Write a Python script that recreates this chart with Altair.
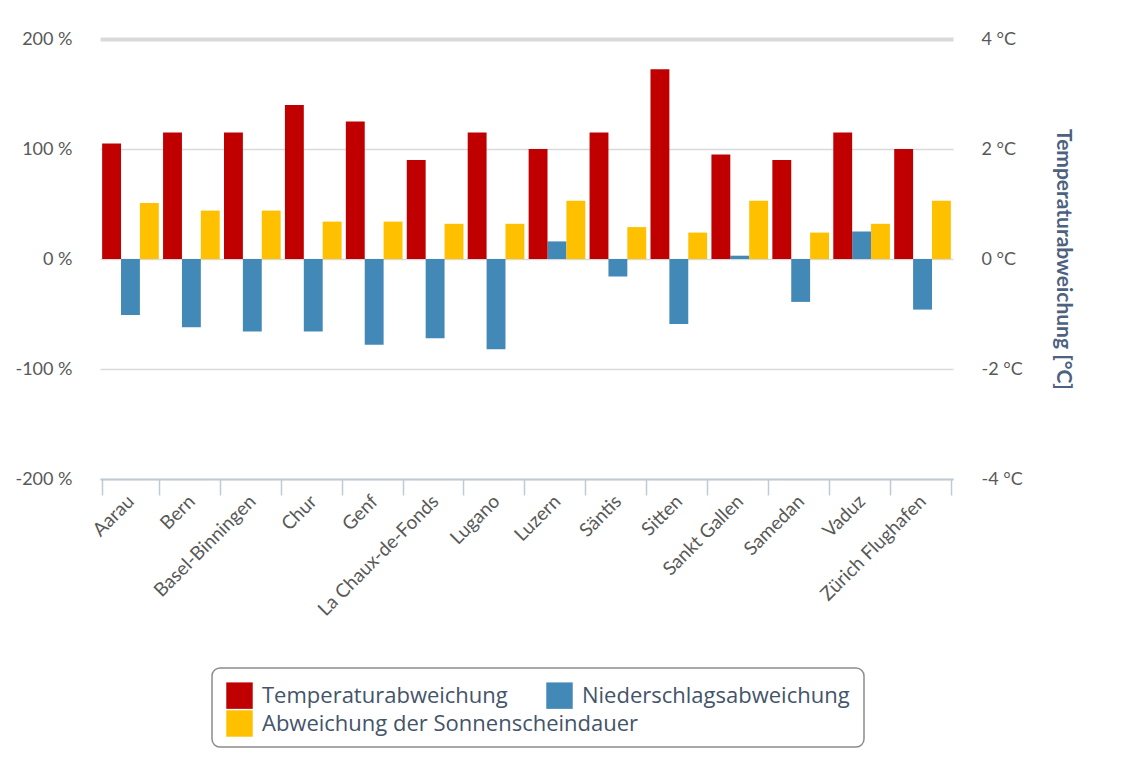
import altair as alt
import pandas as pd

stations = ["Aarau", "Bern", "Basel-Binningen", "Chur", "Genf", "La Chaux-de-Fonds",
            "Lugano", "Luzern", "Säntis", "Sitten", "Sankt Gallen", "Samedan", "Vaduz",
            "Zürich Flughafen"]
series_names = ["Temperaturabweichung", "Niederschlagsabweichung",
                "Abweichung der Sonnenscheindauer"]
series_colors = ["#c00000", "#4389b8", "#ffc000"]

temp_c = [2.1, 2.3, 2.3, 2.8, 2.5, 1.8, 2.3, 2.0, 2.3, 3.45, 1.9, 1.8, 2.3, 2.0]
precip_pct = [-51, -62, -66, -66, -78, -72, -82, 16, -16, -59, 3, -39, 25, -46]
sun_pct = [51, 44, 44, 34, 34, 32, 32, 53, 29, 24, 53, 24, 32, 53]

rows = []
for i, s in enumerate(stations):
    rows.append({"station": s, "series": series_names[0], "value": temp_c[i]})
    rows.append({"station": s, "series": series_names[1], "value": precip_pct[i]})
    rows.append({"station": s, "series": series_names[2], "value": sun_pct[i]})
df = pd.DataFrame(rows)

FONT = "Lato"
GREY = "#595959"
LEG_FONT = "Open Sans"
LEG_COLOR = "#44546a"

x_enc = alt.X("station:N", sort=stations, title=None,
              scale=alt.Scale(paddingInner=0.07, paddingOuter=0.035),
              axis=alt.Axis(labelAngle=315, labelFontSize=19, labelColor=GREY,
                            labelFont=FONT, labelAlign="right", labelBaseline="middle",
                            domainColor="#bfcad6", domainWidth=2,
                            tickColor="#bfcad6", tickWidth=1.5, tickSize=16,
                            tickBand="extent", labelPadding=3, grid=False))
xo_enc = alt.XOffset("series:N", sort=series_names,
                     scale=alt.Scale(domain=series_names, paddingInner=0, paddingOuter=0))

# legend with the first two series (framed box, reserves a second row via a blank title)
color_enc = alt.Color(
    "series:N",
    scale=alt.Scale(domain=series_names[:2], range=series_colors[:2]),
    legend=alt.Legend(title="\u2003", titleOrient="bottom", titleFontSize=20,
                      titlePadding=4, orient="none", legendX=112, legendY=629,
                      direction="horizontal", symbolType="square",
                      symbolSize=700, symbolStrokeWidth=0,
                      labelFont=LEG_FONT, labelFontSize=22, labelColor=LEG_COLOR,
                      labelOffset=9, columnPadding=38,
                      padding=14, strokeColor="#8c8c8c", cornerRadius=8,
                      labelLimit=500))
# second-row legend entry for the sunshine series
fill_enc = alt.Fill(
    "series:N",
    scale=alt.Scale(domain=series_names[2:], range=series_colors[2:]),
    legend=alt.Legend(title=None, orient="none", legendX=126, legendY=671,
                      symbolType="square", symbolSize=700, symbolStrokeWidth=0,
                      labelFont=LEG_FONT, labelFontSize=22, labelColor=LEG_COLOR,
                      labelOffset=9, padding=0, strokeColor="transparent",
                      labelLimit=500))

y_pct = alt.Y("value:Q", title=None,
              scale=alt.Scale(domain=[-200, 200], nice=False),
              axis=alt.Axis(orient="left", values=[-200, -100, 0, 100, 200],
                            labelExpr="datum.value + ' %'", labelFont=FONT,
                            labelFontSize=18, labelColor=GREY, labelPadding=28,
                            domain=False, ticks=False, grid=True, gridColor="#d9d9d9",
                            gridWidth=alt.condition("datum.value == 200",
                                                    alt.value(4), alt.value(1.5))))

base = alt.Chart(df)

precip_layer = base.transform_filter(
    alt.datum.series == series_names[1]
).mark_bar().encode(x=x_enc, xOffset=xo_enc, y=y_pct, color=color_enc)

sun_layer = base.transform_filter(
    alt.datum.series == series_names[2]
).mark_bar().encode(x=x_enc, xOffset=xo_enc, y=y_pct, fill=fill_enc)

pct_layers = alt.layer(precip_layer, sun_layer)

temp_layer = base.transform_filter(
    alt.datum.series == series_names[0]
).mark_bar().encode(
    x=x_enc, xOffset=xo_enc, color=color_enc,
    y=alt.Y("value:Q", title="Temperaturabweichung [°C]",
            scale=alt.Scale(domain=[-4, 4], nice=False),
            axis=alt.Axis(orient="right", values=[-4, -2, 0, 2, 4],
                          labelExpr="datum.value + ' °C'", labelFont=FONT,
                          labelFontSize=18, labelColor=GREY, labelPadding=28,
                          domain=False, ticks=False, grid=False,
                          titleFont=FONT, titleFontSize=21, titleFontWeight="bold",
                          titleColor="#4d6180", titlePadding=30))
)

chart = alt.layer(pct_layers, temp_layer).resolve_scale(y="independent").properties(
    width=853, height=440,
    autosize=alt.AutoSizeParams(type="none"),
    padding={"left": 92, "top": 31, "right": 150, "bottom": 285},
).configure_view(stroke=None).configure_legend(strokeWidth=1.5)

chart.save("out.html", embed_options={"renderer": "svg", "actions": False})
